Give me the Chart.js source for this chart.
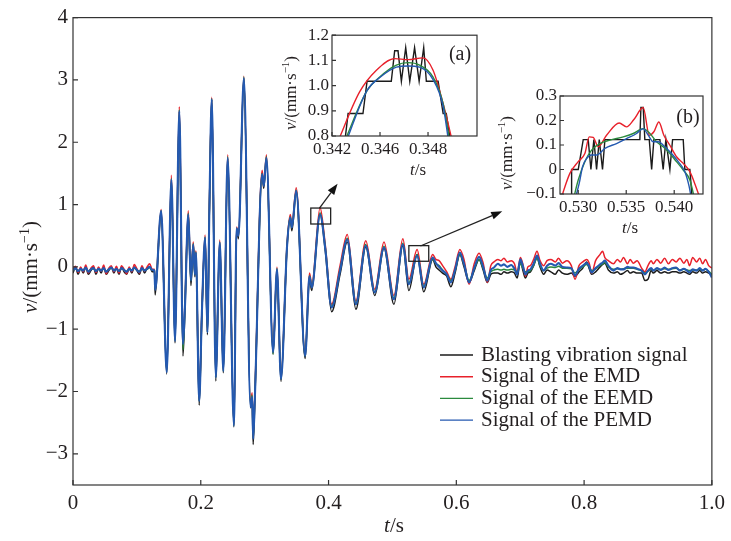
<!DOCTYPE html>
<html>
<head>
<meta charset="utf-8">
<script src="https://cdn.jsdelivr.net/npm/chart.js@4.4.0/dist/chart.umd.min.js"></script>
<style>
  body { margin: 0; background: #fff; }
  #wrap { position: relative; width: 731px; height: 541px; }
  canvas { position: absolute; }
</style>
</head>
<body>
<div id="wrap">
  <canvas id="main" width="731" height="541" style="left:0;top:0"></canvas>
  <canvas id="insetA" width="212" height="170" style="left:272px;top:22px"></canvas>
  <canvas id="insetB" width="215" height="155" style="left:495px;top:82px"></canvas>
</div>
<script>
// ---- data ----
const seriesNames = ['Blasting vibration signal', 'Signal of the EMD', 'Signal of the EEMD', 'Signal of the PEMD'];

// main plot: time (s)
const timeMain = [
  // before the blast
  0.000, 0.004, 0.008, 0.012, 0.016, 0.020, 0.024, 0.028, 0.032, 0.036,
  0.040, 0.044, 0.048, 0.052, 0.056, 0.060, 0.064, 0.068, 0.072, 0.076,
  0.080, 0.084, 0.088, 0.092, 0.096, 0.100, 0.104, 0.108, 0.112, 0.116,
  0.120, 0.124,
  // main vibration
  0.1275, 0.1286, 0.1380, 0.1467, 0.1540, 0.1597, 0.1664, 0.1721, 0.1752, 0.1804,
  0.1846, 0.1882, 0.1908, 0.1924, 0.1975, 0.2017, 0.2068, 0.2104, 0.2135, 0.2172,
  0.2235, 0.2297, 0.2353, 0.2421, 0.2519, 0.2560, 0.2590, 0.2675, 0.2779, 0.2804,
  0.2820, 0.2846, 0.2960, 0.2986, 0.3028, 0.3131, 0.3193, 0.3255, 0.3349, 0.3401,
  0.3426, 0.3494, 0.3634, 0.3701, 0.3737, 0.3867, 0.3950, 0.4048, 0.4180, 0.4293,
  0.4428, 0.4583, 0.4723, 0.4868, 0.5023, 0.5163, 0.5257, 0.5386, 0.5490,
  // tail
  0.5630, 0.5680, 0.5730, 0.5785, 0.5850, 0.5915, 0.5980, 0.6055, 0.6120, 0.6200,
  0.6280, 0.6356, 0.6420, 0.6485, 0.6540, 0.6590, 0.6650, 0.6700, 0.6745, 0.6800,
  0.6860, 0.6910, 0.6952, 0.7003, 0.7040, 0.7082, 0.7120, 0.7159, 0.7210, 0.7263,
  0.7310, 0.7367, 0.7420, 0.7480, 0.7548, 0.7600, 0.7660, 0.7730, 0.7800, 0.7858,
  0.7920, 0.7980, 0.8040, 0.8080, 0.8118, 0.8180, 0.8250, 0.8290, 0.8325, 0.8380,
  0.8460, 0.8520, 0.8570, 0.8616, 0.8680, 0.8720, 0.8772, 0.8830, 0.8900, 0.8952,
  0.9000, 0.9050, 0.9082, 0.9140, 0.9200, 0.9260, 0.9320, 0.9380, 0.9440, 0.9500,
  0.9560, 0.9610, 0.9650, 0.9700, 0.9760, 0.9810, 0.9855, 0.9900, 0.9950, 1.0000
];

// v (mm/s), black: blasting vibration signal
const blastMain = [
  -0.10, 0.00, -0.12, -0.02, -0.10, 0.00, -0.12, -0.06, 0.00, -0.12,
  -0.02, -0.10, 0.00, -0.12, -0.06, 0.00, -0.10, -0.02, -0.12, 0.00,
  -0.08, -0.12, -0.02, -0.10, 0.00, -0.06, -0.12, 0.00, -0.10, -0.02,
  0.00, -0.08,
  -0.08, -0.45, 0.88, -1.72, 1.38, -1.22, 2.48, -1.43, -0.70, 0.82,
  -0.30, 0.33, -0.16, 0.20, -2.22, -0.78, 0.45, -1.09, 0.93, 2.68,
  -1.83, 0.37, -1.70, 1.74, -2.57, 0.60, 0.45, 3.02, -2.26, -2.12,
  -2.85, -2.15, 1.47, 1.26, 1.73, -1.40, -0.08, -1.84, 0.29, 0.77,
  0.58, 1.20, -1.47, -0.20, -0.38, 0.85, 0.25, -0.72, -0.12, 0.40,
  -0.68, 0.32, -0.46, 0.30, -0.60, 0.34, -0.38, 0.20, -0.40,
  0.12, 0.00, -0.05, -0.10, -0.15, -0.32, -0.10, 0.20, 0.00, -0.25,
  -0.06, 0.12, -0.05, -0.25, -0.12, -0.10, -0.10, -0.12, -0.08, -0.10,
  -0.08, -0.10, -0.18, 0.10, -0.05, -0.18, -0.10, -0.08, 0.02, 0.15,
  0.00, -0.12, -0.05, -0.08, -0.12, -0.05, -0.10, -0.12, -0.10, -0.15,
  -0.08, -0.02, 0.08, -0.03, -0.12, -0.08, 0.00, 0.04, 0.06, -0.05,
  -0.10, -0.08, -0.12, -0.10, -0.06, -0.10, -0.08, -0.10, -0.10, -0.22,
  -0.20, -0.06, -0.10, -0.06, -0.10, -0.08, -0.10, -0.08, -0.08, -0.10,
  -0.08, -0.10, -0.12, -0.08, -0.10, -0.06, -0.10, -0.08, -0.10, -0.12
];

// red: EMD
const emdMain = [
  -0.03, 0.01, -0.09, 0.00, -0.08, 0.03, -0.10, -0.02, 0.02, -0.09,
  0.00, -0.07, 0.03, -0.11, -0.02, 0.02, -0.08, 0.01, -0.10, 0.02,
  -0.04, -0.11, 0.00, -0.08, 0.04, -0.03, -0.10, 0.02, -0.07, 0.00,
  0.05, -0.04,
  -0.04, -0.33, 0.92, -1.66, 1.47, -1.15, 2.57, -1.20, -0.58, 0.90,
  -0.18, 0.40, -0.09, 0.26, -2.12, -0.72, 0.51, -1.02, 0.97, 2.72,
  -1.75, 0.43, -1.65, 1.80, -2.53, 0.64, 0.52, 3.06, -2.20, -2.02,
  -2.72, -2.06, 1.55, 1.33, 1.80, -1.35, 0.00, -1.78, 0.34, 0.84,
  0.66, 1.27, -1.41, -0.10, -0.28, 0.95, 0.34, -0.60, 0.02, 0.52,
  -0.55, 0.42, -0.36, 0.40, -0.46, 0.45, -0.20, 0.28, -0.28,
  0.20, 0.12, 0.10, 0.02, -0.08, -0.20, 0.00, 0.28, 0.12, -0.28,
  0.05, 0.22, 0.06, -0.25, 0.02, 0.08, 0.12, 0.10, 0.14, 0.08,
  0.10, 0.05, -0.10, 0.15, 0.05, -0.15, 0.00, 0.02, 0.12, 0.25,
  0.10, 0.02, 0.10, 0.12, 0.08, 0.14, 0.06, 0.10, 0.02, -0.20,
  0.02, 0.08, 0.12, 0.06, -0.10, 0.10, 0.20, 0.25, 0.15, 0.10,
  0.05, 0.12, 0.08, 0.15, 0.05, 0.12, 0.06, 0.10, -0.02, -0.08,
  0.02, 0.10, 0.05, 0.12, 0.06, 0.14, 0.05, 0.12, 0.08, 0.14,
  0.06, 0.12, 0.02, 0.15, 0.08, 0.14, 0.05, 0.12, 0.02, -0.02
];

// green: EEMD
const eemdMain = [
  -0.05, -0.03, -0.06, -0.04, -0.05, -0.02, -0.07, -0.04, -0.03, -0.06,
  -0.04, -0.05, -0.03, -0.07, -0.04, -0.02, -0.05, -0.04, -0.06, -0.03,
  -0.05, -0.07, -0.04, -0.05, -0.02, -0.05, -0.07, -0.03, -0.05, -0.04,
  -0.01, -0.05,
  -0.06, -0.35, 0.90, -1.68, 1.42, -1.18, 2.52, -1.33, -0.62, 0.86,
  -0.22, 0.37, -0.12, 0.24, -2.15, -0.75, 0.48, -1.05, 0.95, 2.70,
  -1.77, 0.40, -1.67, 1.77, -2.55, 0.62, 0.50, 3.05, -2.22, -2.06,
  -2.74, -2.10, 1.50, 1.31, 1.77, -1.40, -0.02, -1.80, 0.32, 0.80,
  0.63, 1.23, -1.43, -0.14, -0.32, 0.87, 0.30, -0.63, -0.05, 0.46,
  -0.58, 0.36, -0.40, 0.33, -0.50, 0.38, -0.26, 0.20, -0.31,
  0.13, 0.05, 0.02, -0.05, -0.12, -0.22, -0.06, 0.20, 0.05, -0.22,
  -0.03, 0.12, -0.02, -0.18, -0.08, -0.05, -0.04, -0.05, -0.04, -0.05,
  -0.04, -0.05, -0.08, 0.05, -0.02, -0.08, -0.08, -0.06, 0.02, 0.14,
  0.02, -0.06, -0.02, 0.00, -0.01, 0.01, -0.02, -0.02, -0.03, -0.10,
  -0.04, 0.00, 0.04, 0.00, -0.06, -0.03, 0.02, 0.05, 0.07, 0.00,
  -0.04, -0.03, -0.04, -0.03, -0.02, -0.02, -0.02, -0.04, -0.06, -0.10,
  -0.07, -0.04, -0.05, -0.03, -0.04, -0.03, -0.04, -0.03, -0.02, -0.05,
  -0.04, -0.05, -0.06, -0.05, -0.05, -0.04, -0.05, -0.04, -0.07, -0.12
];

// blue: PEMD
const pemdMain = [
  -0.05, -0.02, -0.07, -0.03, -0.06, -0.01, -0.08, -0.04, -0.02, -0.07,
  -0.03, -0.06, -0.02, -0.08, -0.04, -0.01, -0.06, -0.03, -0.07, -0.02,
  -0.05, -0.08, -0.03, -0.06, -0.01, -0.05, -0.08, -0.02, -0.06, -0.03,
  0.00, -0.05,
  -0.06, -0.37, 0.90, -1.69, 1.40, -1.19, 2.50, -1.24, -0.65, 0.84,
  -0.22, 0.36, -0.12, 0.23, -2.15, -0.75, 0.47, -1.05, 0.95, 2.69,
  -1.77, 0.39, -1.67, 1.75, -2.55, 0.62, 0.50, 3.03, -2.25, -2.09,
  -2.76, -2.12, 1.49, 1.30, 1.75, -1.37, -0.04, -1.80, 0.31, 0.79,
  0.63, 1.22, -1.43, -0.15, -0.33, 0.84, 0.28, -0.65, -0.06, 0.44,
  -0.60, 0.34, -0.41, 0.31, -0.52, 0.36, -0.28, 0.18, -0.33,
  0.15, 0.06, 0.00, -0.06, -0.12, -0.25, -0.05, 0.23, 0.05, -0.25,
  -0.02, 0.16, 0.00, -0.22, -0.05, -0.01, 0.05, 0.02, 0.04, 0.00,
  0.03, -0.03, -0.12, 0.12, 0.02, -0.12, -0.06, -0.04, 0.05, 0.18,
  0.05, -0.06, 0.02, 0.05, 0.02, 0.06, 0.00, -0.01, -0.02, -0.14,
  -0.03, 0.02, 0.06, 0.01, -0.09, -0.02, 0.04, 0.07, 0.10, 0.02,
  -0.06, -0.02, -0.04, -0.04, 0.00, -0.01, -0.01, -0.03, -0.06, -0.12,
  -0.06, -0.02, -0.06, -0.02, -0.05, -0.01, -0.05, -0.02, -0.01, -0.06,
  -0.03, -0.06, -0.09, -0.04, -0.06, -0.02, -0.06, -0.03, -0.08, -0.17
];

const mainXTicks = [0, 0.2, 0.4, 0.6, 0.8, 1.0];
const mainXTickLabels = ['0', '0.2', '0.4', '0.6', '0.8', '1.0'];
const mainYTicks = [-3, -2, -1, 0, 1, 2, 3, 4];
const mainYTickLabels = ['\u22123', '\u22122', '\u22121', '0', '1', '2', '3', '4'];

// zoom boxes on the main plot [t0, t1, v0, v1] and arrows [t0, v0, t1, v1]
const zoomBoxes = [[0.3722, 0.4033, 0.688, 0.944], [0.5257, 0.5568, 0.09, 0.341]];
const zoomArrows = [[0.3858, 0.944, 0.4141, 1.335], [0.5438, 0.335, 0.6719, 0.891]];

// inset (a)
const aBlastT = [0.34454, 0.34467, 0.34529, 0.34546, 0.34647, 0.34661, 0.34675, 0.34689, 0.34707,
  0.34724, 0.34744, 0.34763, 0.34782, 0.34793, 0.34842, 0.34863, 0.34876, 0.34893];
const aBlastV = [0.783, 0.889, 0.889, 1.017, 1.017, 1.138, 1.138, 1.017, 1.151,
  1.017, 1.151, 1.017, 1.151, 1.017, 1.017, 0.889, 0.889, 0.783];
const aEmdT = [0.34418, 0.34515, 0.34585, 0.34661, 0.34717, 0.34779, 0.34821, 0.34863, 0.34907];
const aEmdV = [0.763, 0.975, 1.061, 1.107, 1.103, 1.110, 1.061, 0.928, 0.756];
const aEemdT = [0.34446, 0.34543, 0.34599, 0.34668, 0.34717, 0.34765, 0.34821, 0.34863, 0.34893];
const aEemdV = [0.763, 0.975, 1.034, 1.081, 1.091, 1.081, 1.034, 0.928, 0.763];
const aPemdT = [0.34453, 0.34546, 0.34599, 0.34668, 0.34717, 0.34765, 0.34821, 0.34863, 0.34888];
const aPemdV = [0.763, 0.981, 1.032, 1.073, 1.078, 1.073, 1.024, 0.918, 0.763];
const aXTicks = [0.344, 0.346, 0.348];
const aXTickLabels = ['0.342', '0.346', '0.348'];
const aYTicks = [0.8, 0.9, 1.0, 1.1, 1.2];
const aYTickLabels = ['0.8', '0.9', '1.0', '1.1', '1.2'];

// inset (b)
const bBlastT = [0.52931, 0.52931, 0.52948, 0.53000, 0.53052, 0.53104, 0.53132, 0.53163, 0.53191, 0.53219,
  0.53253, 0.53278, 0.53313, 0.53642, 0.53653, 0.53677, 0.53694, 0.53740, 0.53765, 0.53788,
  0.53851, 0.53885, 0.53913, 0.53955, 0.53983, 0.54094, 0.54111, 0.54163, 0.54188];
const bBlastV = [-0.124, 0.000, 0.000, 0.000, 0.122, 0.122, 0.000, 0.122, 0.000, 0.122,
  0.000, 0.122, 0.122, 0.122, 0.253, 0.253, 0.122, 0.122, 0.000, 0.122,
  0.122, 0.000, 0.122, 0.000, 0.122, 0.122, 0.000, 0.000, -0.124];
const bEmdT = [0.52816, 0.52913, 0.53000, 0.53069, 0.53115, 0.53156, 0.53208, 0.53295, 0.53427, 0.53503,
  0.53580, 0.53677, 0.53740, 0.53788, 0.53840, 0.53892, 0.53955, 0.54024, 0.54094, 0.54163,
  0.54226, 0.54274];
const bEmdV = [-0.124, -0.016, 0.032, 0.065, 0.133, 0.131, 0.093, 0.140, 0.190, 0.174,
  0.204, 0.253, 0.140, 0.154, 0.194, 0.140, 0.099, 0.052, 0.025, -0.009,
  -0.070, -0.124];
const bEemdT = [0.52948, 0.53000, 0.53069, 0.53139, 0.53226, 0.53330, 0.53469, 0.53573, 0.53677, 0.53747,
  0.53816, 0.53885, 0.53955, 0.54024, 0.54094, 0.54163, 0.54215];
const bEemdV = [-0.124, -0.043, 0.032, 0.079, 0.106, 0.120, 0.133, 0.147, 0.167, 0.147,
  0.113, 0.093, 0.065, 0.032, -0.002, -0.043, -0.124];
const bPemdT = [0.52965, 0.53010, 0.53045, 0.53087, 0.53139, 0.53191, 0.53278, 0.53399, 0.53503, 0.53608,
  0.53677, 0.53729, 0.53781, 0.53833, 0.53903, 0.53972, 0.54042, 0.54111, 0.54156, 0.54181];
const bPemdV = [-0.124, -0.057, 0.011, 0.045, 0.059, 0.059, 0.086, 0.106, 0.126, 0.147,
  0.167, 0.140, 0.113, 0.113, 0.093, 0.065, 0.032, -0.009, -0.070, -0.124];
const bXTicks = [0.530, 0.535, 0.540];
const bXTickLabels = ['0.530', '0.535', '0.540'];
const bYTicks = [-0.1, 0, 0.1, 0.2, 0.3];
const bYTickLabels = ['\u22120.1', '0', '0.1', '0.2', '0.3'];

// ---- drawing ----
const SERIF = '"Liberation Serif", "Times New Roman", serif';
const TXT = '#231f20';
const lineColors = ['#1b1b1b', '#e8212b', '#2b8a3e', '#2459b0'];

function pts(xs, ys) {
  return xs.map((x, i) => ({ x: x, y: ys[i] }));
}

function drawTitle(ctx, parts, cx, cy, size, rot) {
  ctx.save();
  ctx.translate(cx, cy);
  if (rot) ctx.rotate(-Math.PI / 2);
  const fonts = parts.map(p => (p.it ? 'italic ' : '') + Math.round(p.sup ? size * 0.65 : size) + 'px ' + SERIF);
  let w = 0;
  parts.forEach((p, i) => { ctx.font = fonts[i]; w += ctx.measureText(p.t).width; });
  let xx = -w / 2;
  ctx.fillStyle = TXT;
  ctx.textBaseline = 'alphabetic';
  parts.forEach((p, i) => {
    ctx.font = fonts[i];
    ctx.fillText(p.t, xx, size * 0.33 - (p.sup ? size * 0.38 : 0));
    xx += ctx.measureText(p.t).width;
  });
  ctx.restore();
}

const tTitle = [{ t: 't', it: true }, { t: '/s' }];
const vTitle = [{ t: 'v', it: true }, { t: '/(mm\u00b7s' }, { t: '\u22121', sup: true }, { t: ')' }];

function arrow(ctx, x0, y0, x1, y1) {
  const ang = Math.atan2(y1 - y0, x1 - x0);
  const hl = 11, hw = 4;
  const bx = x1 - hl * Math.cos(ang), by = y1 - hl * Math.sin(ang);
  ctx.beginPath();
  ctx.moveTo(x0, y0);
  ctx.lineTo(bx, by);
  ctx.stroke();
  ctx.beginPath();
  ctx.moveTo(x1, y1);
  ctx.lineTo(bx + hw * Math.sin(ang), by - hw * Math.cos(ang));
  ctx.lineTo(bx - hw * Math.sin(ang), by + hw * Math.cos(ang));
  ctx.closePath();
  ctx.fill();
}

// frame, inward ticks, titles and extras
function makeDeco(cfg) {
  return {
    id: 'deco',
    afterDraw(chart) {
      const ctx = chart.ctx, a = chart.chartArea, x = chart.scales.x, y = chart.scales.y;
      ctx.save();
      ctx.strokeStyle = '#333';
      ctx.lineWidth = 1.2;
      ctx.strokeRect(a.left, a.top, a.right - a.left, a.bottom - a.top);
      ctx.beginPath();
      x.ticks.forEach(t => {
        const px = x.getPixelForValue(t.value);
        ctx.moveTo(px, a.bottom);
        ctx.lineTo(px, a.bottom - cfg.tick);
      });
      y.ticks.forEach(t => {
        const py = y.getPixelForValue(t.value);
        ctx.moveTo(a.left, py);
        ctx.lineTo(a.left + cfg.tick, py);
      });
      ctx.stroke();
      drawTitle(ctx, tTitle, cfg.xTitle[0], cfg.xTitle[1], cfg.titleSize, false);
      drawTitle(ctx, vTitle, cfg.yTitle[0], cfg.yTitle[1], cfg.titleSize, true);
      if (cfg.tag) {
        ctx.fillStyle = TXT;
        ctx.font = cfg.tagSize + 'px ' + SERIF;
        ctx.textAlign = 'center';
        ctx.textBaseline = 'middle';
        ctx.fillText(cfg.tag, cfg.tagPos[0], cfg.tagPos[1]);
      }
      if (cfg.extra) cfg.extra(chart, ctx);
      ctx.restore();
    }
  };
}

function scaleCfg(min, max, ticks, labels, size, pad, fit, isX) {
  return {
    type: 'linear',
    min: min,
    max: max,
    afterBuildTicks: s => { s.ticks = ticks.map(v => ({ value: v })); },
    afterFit: s => { if (isX) s.height = fit; else s.width = fit; },
    grid: { display: false, drawTicks: false },
    border: { display: false },
    ticks: {
      autoSkip: false,
      maxRotation: 0,
      padding: pad,
      color: TXT,
      font: { family: SERIF, size: size },
      callback: (v, i) => labels[i]
    }
  };
}

function lineSet(label, data, color, width, order, smooth) {
  return {
    label: label,
    data: data,
    borderColor: color,
    backgroundColor: color,
    borderWidth: width,
    pointRadius: 0,
    order: order,
    cubicInterpolationMode: smooth ? 'monotone' : 'default',
    tension: 0
  };
}

function baseOptions(padding, xs, ys) {
  return {
    responsive: false,
    animation: false,
    events: [],
    layout: { padding: padding },
    plugins: { legend: { display: false }, tooltip: { enabled: false } },
    scales: { x: xs, y: ys }
  };
}

// main chart
const mainValues = [blastMain, emdMain, eemdMain, pemdMain];
new Chart(document.getElementById('main'), {
  type: 'line',
  data: {
    datasets: mainValues.map((vals, i) =>
      lineSet(seriesNames[i], pts(timeMain, vals), lineColors[i], i === 3 ? 2.1 : 1.5, 4 - i, true))
  },
  options: baseOptions({ left: 0, right: 15, top: 17, bottom: 0 },
    scaleCfg(0, 1, mainXTicks, mainXTickLabels, 21, 6, 56, true),
    scaleCfg(-3.5, 4, mainYTicks, mainYTickLabels, 21, 5, 73, false)),
  plugins: [makeDeco({
    tick: 5, titleSize: 21, xTitle: [394, 525], yTitle: [30, 267],
    extra: (chart, ctx) => {
      const x = chart.scales.x, y = chart.scales.y;
      ctx.strokeStyle = '#222';
      ctx.fillStyle = '#111';
      ctx.lineWidth = 1.3;
      zoomBoxes.forEach(b => {
        const x0 = x.getPixelForValue(b[0]), x1 = x.getPixelForValue(b[1]);
        const y0 = y.getPixelForValue(b[3]), y1 = y.getPixelForValue(b[2]);
        ctx.strokeRect(x0, y0, x1 - x0, y1 - y0);
      });
      zoomArrows.forEach(r => {
        arrow(ctx, x.getPixelForValue(r[0]), y.getPixelForValue(r[1]),
          x.getPixelForValue(r[2]), y.getPixelForValue(r[3]));
      });
      // legend
      ctx.font = '21px ' + SERIF;
      ctx.textAlign = 'left';
      ctx.textBaseline = 'middle';
      seriesNames.forEach((name, i) => {
        const ly = 355 + i * 21.7;
        ctx.strokeStyle = lineColors[i];
        ctx.lineWidth = 1.4;
        ctx.beginPath();
        ctx.moveTo(440, ly);
        ctx.lineTo(473, ly);
        ctx.stroke();
        ctx.fillStyle = TXT;
        ctx.fillText(name, 481, ly);
      });
    }
  })]
});

// inset (a)
const aSets = [[aBlastT, aBlastV], [aEmdT, aEmdV], [aEemdT, aEemdV], [aPemdT, aPemdV]];
new Chart(document.getElementById('insetA'), {
  type: 'line',
  data: {
    datasets: aSets.map((s, i) => lineSet(seriesNames[i], pts(s[0], s[1]), lineColors[i], 1.4, 4 - i, i > 0))
  },
  options: baseOptions({ left: 0, right: 7, top: 13, bottom: 0 },
    scaleCfg(0.344, 0.35004, aXTicks, aXTickLabels, 17, 3, 56, true),
    scaleCfg(0.8, 1.2, aYTicks, aYTickLabels, 17, 3, 60, false)),
  plugins: [makeDeco({
    tick: 4, titleSize: 17, xTitle: [146, 147], yTitle: [18, 71],
    tag: '(a)', tagSize: 20, tagPos: [188, 33]
  })]
});

// inset (b)
const bSets = [[bBlastT, bBlastV], [bEmdT, bEmdV], [bEemdT, bEemdV], [bPemdT, bPemdV]];
new Chart(document.getElementById('insetB'), {
  type: 'line',
  data: {
    datasets: bSets.map((s, i) => lineSet(seriesNames[i], pts(s[0], s[1]), lineColors[i], 1.4, 4 - i, i > 0))
  },
  options: baseOptions({ left: 0, right: 7, top: 14, bottom: 0 },
    scaleCfg(0.5281, 0.5430, bXTicks, bXTickLabels, 17, 3, 43, true),
    scaleCfg(-0.1, 0.3, bYTicks, bYTickLabels, 17, 3, 65, false)),
  plugins: [makeDeco({
    tick: 4, titleSize: 17, xTitle: [135, 145], yTitle: [11, 71],
    tag: '(b)', tagSize: 20, tagPos: [193, 36]
  })]
});
</script>
</body>
</html>
